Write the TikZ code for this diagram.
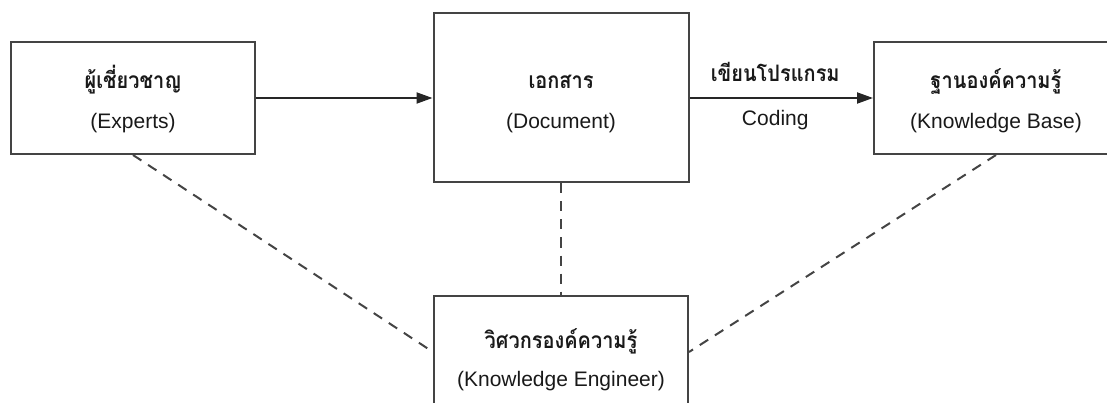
\documentclass[tikz,border=0pt]{standalone}
\usepackage{fontspec}
\setmainfont{Liberation Sans}
\newfontfamily\thaifont[Script=Thai, FakeStretch=0.88, Scale=1.08]{Loma}
\usepackage{tikz}
\definecolor{gray700}{HTML}{444444}
\usetikzlibrary{arrows.meta}
% Thai first line with a fixed height, so both lines sit alike in every box
\newcommand{\thline}[2][24.4pt]{\rule{0pt}{#1}{\thaifont\bfseries #2}}
\tikzstyle{box}=[rectangle, draw=gray700, line width=2pt, align=center, text=black!90, font=\fontsize{21}{40}\selectfont]
\tikzstyle{flow}=[draw=black!85, line width=2pt, -{Triangle[length=16pt, width=11pt]}]
\tikzstyle{link}=[draw=gray700, line width=2pt, dash pattern=on 10pt off 8pt]
\tikzstyle{tag}=[text=black!90, font=\fontsize{21}{24}\selectfont]

\begin{document}
\begin{tikzpicture}[x=1pt, y=-1pt]
	\useasboundingbox (0,0) rectangle (1107,403);
	\node[box, minimum width=244pt, minimum height=112pt] (experts) at (133,98) {\thline{ผู้เชี่ยวชาญ}\\(Experts)};
	\node[box, minimum width=255pt, minimum height=169pt] (document) at (561,98) {\thline{เอกสาร}\\(Document)};
	\node[box, minimum width=244pt, minimum height=112pt] (base) at (996,98) {\thline{ฐานองค์ความรู้}\\(Knowledge Base)};
	\node[box, minimum width=254pt, minimum height=112pt, font=\fontsize{21}{38}\selectfont] (engineer) at (561,352) {\thline[35pt]{วิศวกรองค์ความรู้}\\(Knowledge Engineer)};
	\path[flow] (experts) -- (document);
	\path[flow] (document) -- (base)
		node[tag, midway, xshift=-6pt, yshift=26pt] (codingth) {\thaifont\bfseries เขียนโปรแกรม}
		node[tag, midway, xshift=-6pt, yshift=-22pt] (coding) {Coding};
	\path[link] (experts.south) -- (engineer.west);
	\path[link] (document) -- (engineer);
	\path[link] (base.south) -- (engineer.east);
\end{tikzpicture}
\end{document}
